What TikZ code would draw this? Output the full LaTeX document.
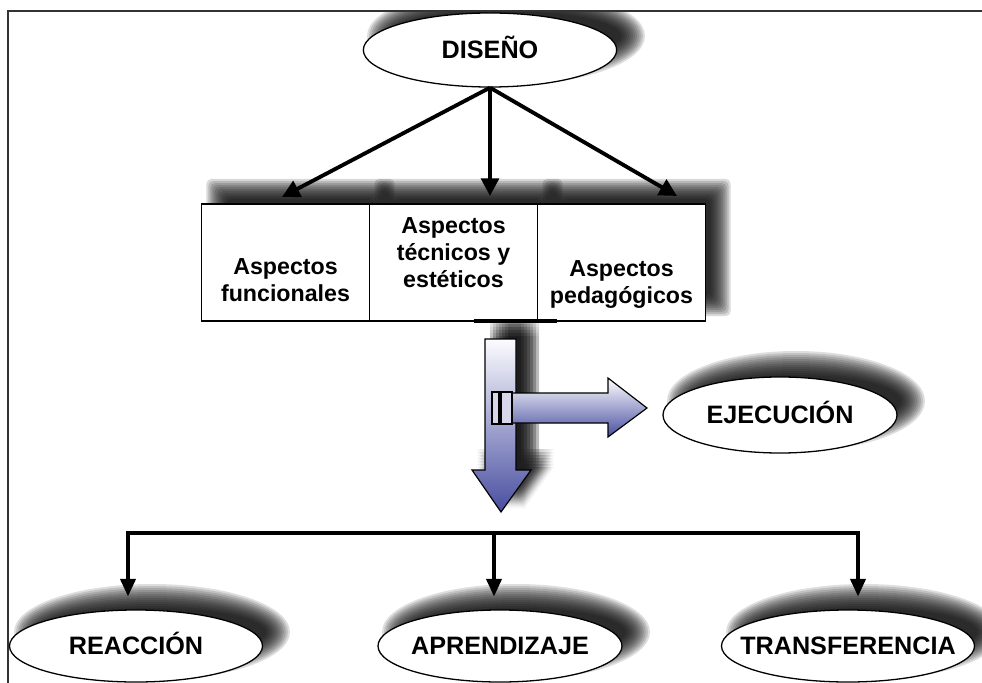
\documentclass[tikz,border=0pt]{standalone}
\usepackage{fontspec}
\setmainfont{Liberation Sans}
\usetikzlibrary{shapes.geometric,arrows.meta,calc,backgrounds}

\definecolor{azulclaro}{RGB}{252,252,255}
\definecolor{azulosc}{RGB}{72,78,160}
\definecolor{barra}{RGB}{215,215,236}

\begin{document}
\begin{tikzpicture}[x=0.03cm, y=-0.03cm,
  ovalo/.style={ellipse, draw, line width=1.1pt, fill=white, inner sep=0pt,
    text height=15pt, text depth=0pt, font=\fontsize{21.5}{24}\selectfont\bfseries},
  caja/.style={draw, line width=1.1pt, fill=white, outer sep=0pt,
    minimum width=5.04cm, minimum height=3.51cm},
  texto/.style={anchor=north, inner sep=0pt, align=center,
    font=\fontsize{19.8}{23}\selectfont\bfseries},
  flecha/.style={line width=3.3pt, -{Triangle[length=15pt,width=15pt]}},
  bajada/.style={line width=2.8pt, -{Triangle[length=15pt,width=13pt]}, shorten >=11pt},
  sombra/.style={fill=black, opacity=0.13}]
\useasboundingbox (0,0) rectangle (982,683);

% marco
\draw[line width=2.4pt, black!80] (8,683) -- (8,11) -- (982,11);

% elipses
\node[ovalo, minimum width=7.6cm, minimum height=2.22cm] (dis) at (490,50) {\makebox[0pt]{DISEÑO}};
\node[ovalo, minimum width=7.02cm, minimum height=2.28cm] (eje) at (780,415) {\makebox[0pt]{EJECUCIÓN}};
\node[ovalo, minimum width=7.59cm, minimum height=2.16cm] (rea) at (136,646) {\makebox[0pt]{REACCIÓN}};
\node[ovalo, minimum width=7.32cm, minimum height=2.16cm] (apr) at (500,646) {\makebox[0pt]{APRENDIZAJE}};
\node[ovalo, minimum width=7.59cm, minimum height=2.16cm] (tra) at (848,646) {\makebox[0pt]{TRANSFERENCIA}};

% cajas
\node[caja] (b1) at (285.5,262.5) {};
\node[caja, anchor=west] (b2) at (b1.east) {};
\node[caja, anchor=west] (b3) at (b2.east) {};
\node[texto] (t1) at ($(b1.north)+(0,54)$) {Aspectos\\funcionales};
\node[texto] (t2) at ($(b2.north)+(0,13)$) {Aspectos\\técnicos y\\estéticos};
\node[texto] (t3) at ($(b3.north)+(0,56)$) {Aspectos\\pedagógicos};
\draw[line width=2.6pt] ($(b2.south)+(20,0)$) -- ($(b2.south)+(103,0)$);

% flechas de arriba
\coordinate (p1) at (282,197);
\coordinate (p2) at (490,196);
\coordinate (p3) at (677,196);
\draw[flecha] (dis.south) -- (p1);
\draw[flecha] (dis.south) -- (p2);
\draw[flecha] (dis.south) -- (p3);

% flechas grandes
\draw[line width=1pt, top color=azulclaro, bottom color=azulosc]
  (485,339) -- (516,339) -- (516,470) -- (531,470) -- (501,512) -- (472,470) -- (485,470) -- cycle;
\draw[line width=1pt, top color=white, bottom color=azulosc]
  (512,393) -- (608,393) -- (608,378) -- (647,408) -- (608,437) -- (608,423) -- (512,423) -- cycle;
\draw[line width=0.9pt, fill=barra] (492,392) rectangle (499,424);
\draw[line width=0.9pt, fill=barra] (501,392) rectangle (512,424);

% ramas de abajo
\coordinate (bi) at (128,533);
\coordinate (bm) at (494,533);
\coordinate (bd) at (858,533);
\draw[line width=2.8pt, line cap=rect] (bi) -- (bd);
\draw[bajada] (bi) -- (bi |- rea.north);
\draw[bajada] (bm) -- (bm |- apr.north);
\draw[bajada] (bd) -- (bd |- tra.north);

% sombras
\begin{scope}[on background layer]
\clip (8,11) rectangle (982,683);
\foreach \n/\rx/\ry in {dis/127/37, eje/117/38, rea/126/36, apr/122/36, tra/126/36}
  \foreach \k in {-12,-10,...,12}
    \fill[sombra] ($(\n.center)+(16,-14)$) ellipse [x radius=\rx+\k, y radius=\ry+\k];
\foreach \n in {b1,b2,b3}
  \foreach \k in {-10,-8,...,10}
    \fill[sombra, opacity=0.15, rounded corners=4pt] ($(\n.south west)+(15-\k,-15+\k)$) rectangle ($(\n.north east)+(15+\k,-15-\k)$);
\foreach \dx in {-9,-6,...,9}
  \foreach \dy in {-9,-6,...,9}
    \fill[black, opacity=0.045, shift={(14+\dx,-12+\dy)}]
      (485,339) -- (516,339) -- (516,470) -- (531,470) -- (501,512) -- (472,470) -- (485,470) -- cycle;
\end{scope}
\end{tikzpicture}
\end{document}
